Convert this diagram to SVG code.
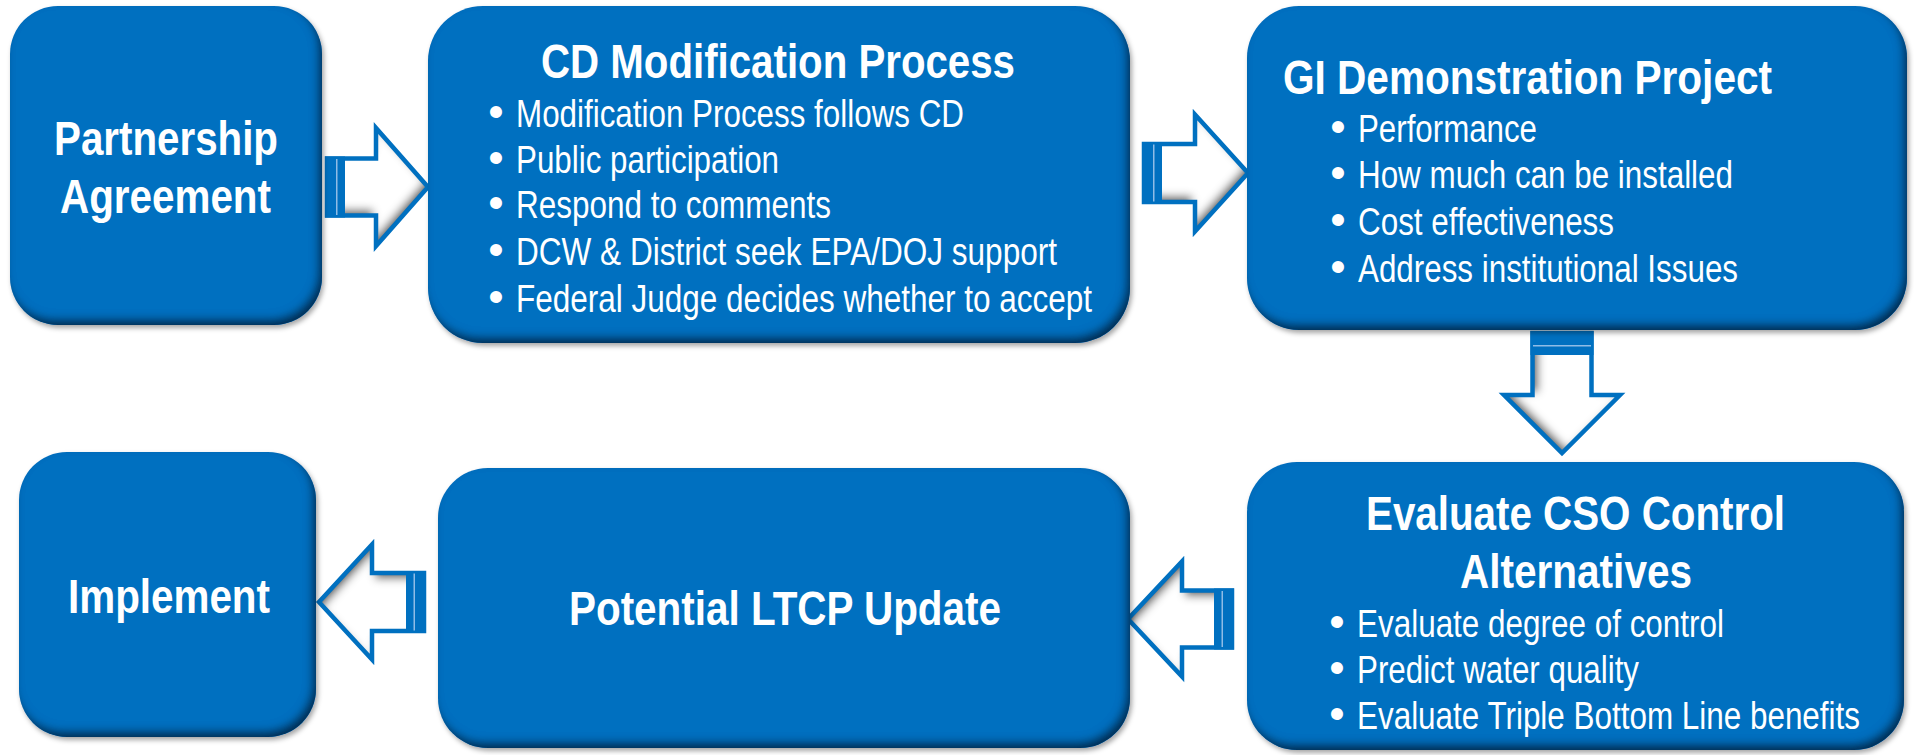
<svg xmlns="http://www.w3.org/2000/svg" width="1914" height="755" viewBox="0 0 1914 755">
  <defs>
    <style>
      .box { fill: #0070C0; filter: url(#boxShade); }
      .txt { font-family: "Liberation Sans Narrow", "Arial Narrow", "Liberation Sans", Arial, sans-serif; fill: #ffffff; }
      .head { font-weight: bold; font-size: 49px; }
      .item { font-size: 38px; }
      .dot { font-family: "Liberation Sans", Arial, sans-serif; font-size: 44px; fill: #ffffff; text-anchor: middle; }
      .arrow-fill { fill: #ffffff; filter: url(#arrowShade); }
      .arrow-line { fill: none; stroke: #0070C0; stroke-width: 4.5; stroke-linejoin: miter; }
      .arrow-bar { fill: #0070C0; }
      .arrow-gap { fill: #8fbce6; }
    </style>
    <!-- darkened lower/right rim inside each box, plus a faint outer shadow -->
    <filter id="boxShade" x="-5%" y="-5%" width="112%" height="115%">
      <feGaussianBlur in="SourceAlpha" stdDeviation="2.5" result="ob"/>
      <feOffset in="ob" dx="2" dy="3" result="oo"/>
      <feFlood flood-color="#000000" flood-opacity="0.35"/>
      <feComposite in2="oo" operator="in" result="outer"/>
      <feFlood flood-color="#052d52"/>
      <feComposite in2="SourceAlpha" operator="out"/>
      <feGaussianBlur stdDeviation="4"/>
      <feOffset dx="-4" dy="-6" result="sh"/>
      <feComposite in="sh" in2="SourceAlpha" operator="in" result="inner"/>
      <feMerge>
        <feMergeNode in="outer"/>
        <feMergeNode in="SourceGraphic"/>
        <feMergeNode in="inner"/>
      </feMerge>
    </filter>
    <!-- grey shading along the lower inside edge of the block arrows (local frame) -->
    <filter id="arrowShade" x="-25%" y="-25%" width="150%" height="150%">
      <feFlood flood-color="#5a5a5a"/>
      <feComposite in2="SourceAlpha" operator="out"/>
      <feGaussianBlur stdDeviation="4"/>
      <feOffset dx="-3" dy="-6" result="sh"/>
      <feComposite in="sh" in2="SourceAlpha" operator="in" result="inner"/>
      <feMerge>
        <feMergeNode in="SourceGraphic"/>
        <feMergeNode in="inner"/>
      </feMerge>
    </filter>
  </defs>

  <!-- connectors: block arrows, drawn pointing right in their own frame -->
  <g id="connectors">
    <g id="arrow-partnership-cd" transform="translate(327,187)">
      <path class="arrow-fill" d="M0,-28.5 H49 V-59 L101,0 L49,59 V28.5 H0 Z"/>
      <path class="arrow-line" d="M0,-28.5 H49 V-59 L101,0 L49,59 V28.5 H0 Z"/>
      <rect class="arrow-bar" x="-2" y="-30.5" width="20" height="61"/>
      <rect class="arrow-gap" x="9" y="-28" width="1.5" height="56"/>
    </g>
    <g id="arrow-cd-gi" transform="translate(1144,173)">
      <path class="arrow-fill" d="M0,-29 H51 V-58.5 L104,0 L51,58.5 V29 H0 Z"/>
      <path class="arrow-line" d="M0,-29 H51 V-58.5 L104,0 L51,58.5 V29 H0 Z"/>
      <rect class="arrow-bar" x="-2" y="-31" width="20" height="62"/>
      <rect class="arrow-gap" x="9" y="-28.5" width="1.5" height="57"/>
    </g>
    <g id="arrow-gi-evaluate" transform="translate(1562,333) rotate(90)">
      <path class="arrow-fill" d="M0,-29.5 H62 V-58 L120,0 L62,58 V29.5 H0 Z"/>
      <path class="arrow-line" d="M0,-29.5 H62 V-58 L120,0 L62,58 V29.5 H0 Z"/>
      <rect class="arrow-bar" x="-2" y="-31.5" width="24" height="63"/>
      <rect class="arrow-gap" x="12" y="-29" width="1.5" height="58"/>
    </g>
    <g id="arrow-evaluate-ltcp" transform="translate(1232,619) rotate(180)">
      <path class="arrow-fill" d="M0,-28.5 H50 V-57.5 L104,0 L50,57.5 V28.5 H0 Z"/>
      <path class="arrow-line" d="M0,-28.5 H50 V-57.5 L104,0 L50,57.5 V28.5 H0 Z"/>
      <rect class="arrow-bar" x="-2" y="-30.5" width="20" height="61"/>
      <rect class="arrow-gap" x="9" y="-28" width="1.5" height="56"/>
    </g>
    <g id="arrow-ltcp-implement" transform="translate(424,602) rotate(180)">
      <path class="arrow-fill" d="M0,-29 H52 V-57.5 L105,0 L52,57.5 V29 H0 Z"/>
      <path class="arrow-line" d="M0,-29 H52 V-57.5 L105,0 L52,57.5 V29 H0 Z"/>
      <rect class="arrow-bar" x="-2" y="-31" width="20" height="62"/>
      <rect class="arrow-gap" x="9" y="-28.5" width="1.5" height="57"/>
    </g>
  </g>

  <g id="node-partnership">
    <rect class="box" x="10" y="6" width="312" height="319" rx="48" ry="48"/>
    <text class="txt head" x="54" y="155" textLength="224" lengthAdjust="spacingAndGlyphs">Partnership</text>
    <text class="txt head" x="60" y="213" textLength="211" lengthAdjust="spacingAndGlyphs">Agreement</text>
  </g>

  <g id="node-cd-modification">
    <rect class="box" x="428" y="6" width="702" height="337" rx="55" ry="55"/>
    <text class="txt head" x="541" y="78" textLength="474" lengthAdjust="spacingAndGlyphs">CD Modification Process</text>
    <text class="dot" x="496" y="127">•</text>
    <text class="txt item" x="516" y="127" textLength="448" lengthAdjust="spacingAndGlyphs">Modification Process follows CD</text>
    <text class="dot" x="496" y="173">•</text>
    <text class="txt item" x="516" y="173" textLength="263" lengthAdjust="spacingAndGlyphs">Public participation</text>
    <text class="dot" x="496" y="218">•</text>
    <text class="txt item" x="516" y="218" textLength="315" lengthAdjust="spacingAndGlyphs">Respond to comments</text>
    <text class="dot" x="496" y="265">•</text>
    <text class="txt item" x="516" y="265" textLength="541" lengthAdjust="spacingAndGlyphs">DCW &amp; District seek EPA/DOJ support</text>
    <text class="dot" x="496" y="312">•</text>
    <text class="txt item" x="516" y="312" textLength="576" lengthAdjust="spacingAndGlyphs">Federal Judge decides whether to accept</text>
  </g>

  <g id="node-gi-demonstration">
    <rect class="box" x="1247" y="6" width="660" height="324" rx="52" ry="52"/>
    <text class="txt head" x="1283" y="94" textLength="489" lengthAdjust="spacingAndGlyphs">GI Demonstration Project</text>
    <text class="dot" x="1338" y="142">•</text>
    <text class="txt item" x="1358" y="142" textLength="179" lengthAdjust="spacingAndGlyphs">Performance</text>
    <text class="dot" x="1338" y="188">•</text>
    <text class="txt item" x="1358" y="188" textLength="375" lengthAdjust="spacingAndGlyphs">How much can be installed</text>
    <text class="dot" x="1338" y="235">•</text>
    <text class="txt item" x="1358" y="235" textLength="256" lengthAdjust="spacingAndGlyphs">Cost effectiveness</text>
    <text class="dot" x="1338" y="282">•</text>
    <text class="txt item" x="1358" y="282" textLength="380" lengthAdjust="spacingAndGlyphs">Address institutional Issues</text>
  </g>

  <g id="node-evaluate-cso">
    <rect class="box" x="1247" y="462" width="657" height="288" rx="50" ry="50"/>
    <text class="txt head" x="1366" y="530" textLength="419" lengthAdjust="spacingAndGlyphs">Evaluate CSO Control</text>
    <text class="txt head" x="1460" y="588" textLength="232" lengthAdjust="spacingAndGlyphs">Alternatives</text>
    <text class="dot" x="1337" y="637">•</text>
    <text class="txt item" x="1357" y="637" textLength="367" lengthAdjust="spacingAndGlyphs">Evaluate degree of control</text>
    <text class="dot" x="1337" y="683">•</text>
    <text class="txt item" x="1357" y="683" textLength="282" lengthAdjust="spacingAndGlyphs">Predict water quality</text>
    <text class="dot" x="1337" y="729">•</text>
    <text class="txt item" x="1357" y="729" textLength="503" lengthAdjust="spacingAndGlyphs">Evaluate Triple Bottom Line benefits</text>
  </g>

  <g id="node-ltcp-update">
    <rect class="box" x="438" y="468" width="692" height="280" rx="50" ry="50"/>
    <text class="txt head" x="569" y="625" textLength="432" lengthAdjust="spacingAndGlyphs">Potential LTCP Update</text>
  </g>

  <g id="node-implement">
    <rect class="box" x="19" y="452" width="297" height="285" rx="48" ry="48"/>
    <text class="txt head" x="68" y="613" textLength="202" lengthAdjust="spacingAndGlyphs">Implement</text>
  </g>
</svg>
